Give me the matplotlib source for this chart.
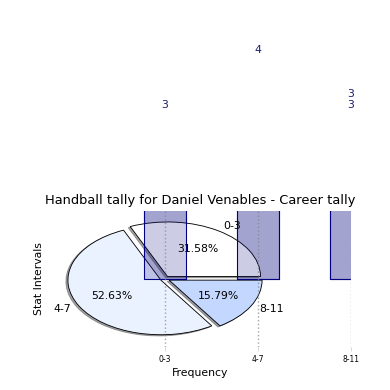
import numpy as np
import matplotlib
matplotlib.use("Agg")
import matplotlib.pyplot as plt

categories = ["0-3", "4-7", "8-11"]
bar_values = [3, 4, 3]
pie_values = [6, 10, 3]
pie_colors = ["#ffffff", "#ebf2ff", "#c3d7ff"]
extra_label_value = 3
extra_label_height = 3.2

fig = plt.figure(figsize=(5, 5), dpi=78)
ax = plt.subplot(2, 1, 2)

x = np.arange(len(categories))

# bars go in twice: once under the pie, once over it
ax.bar(x, bar_values, width=0.45, color=(0, 0, 0.5, 0.2), edgecolor="navy",
       linewidth=1, zorder=0.5)

ax.pie(pie_values, labels=categories, autopct="%1.2f%%",
       explode=(0.05, 0.05, 0.05), shadow=True, startangle=0,
       colors=pie_colors, wedgeprops={"edgecolor": "black", "linewidth": 0.8})
ax.set_aspect("auto")

ax.bar(x, bar_values, width=0.45, color=(0, 0, 0.5, 0.2), edgecolor="navy",
       linewidth=1, zorder=2)

for i, v in enumerate(bar_values):
    ax.text(x[i], v + 0.1, str(v), ha="center", va="bottom",
            color="midnightblue", fontsize=10, clip_on=False)
ax.text(x[-1], extra_label_height + 0.1, str(extra_label_value), ha="center",
        va="bottom", color="midnightblue", fontsize=10, clip_on=False)

ax.set_xticks(x)
ax.set_xticklabels(categories, fontsize=7)
ax.tick_params(axis="x", colors="lightgray", labelcolor="black")
ax.set_axisbelow(False)
ax.grid(True, linestyle=":", color="gray", linewidth=1.3, alpha=0.7)

ax.set_title("Handball tally for Daniel Venables - Career tally")
ax.set_xlabel("Frequency")
ax.set_ylabel("Stat Intervals")

plt.savefig("out.png")
